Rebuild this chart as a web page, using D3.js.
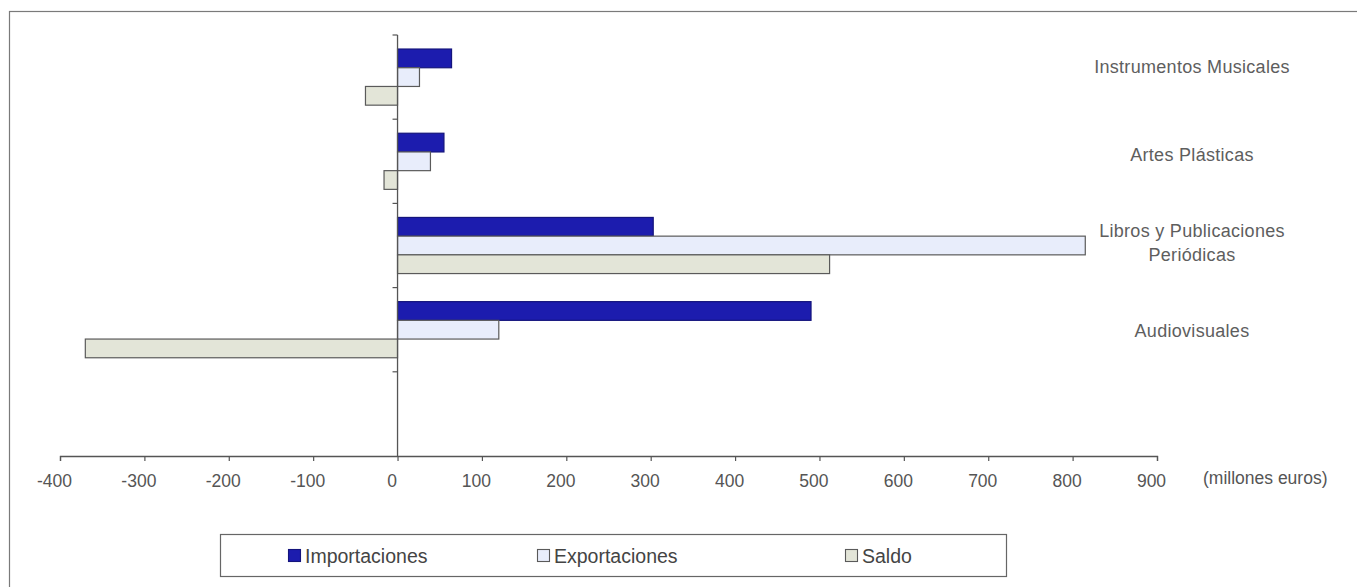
<!DOCTYPE html>
<html>
<head>
<meta charset="utf-8">
<script src="https://cdn.jsdelivr.net/npm/d3@7"></script>
<style>
  html, body { margin: 0; padding: 0; background: #fff; }
  svg { display: block; font-family: "Liberation Sans", Arial, Helvetica, sans-serif; }
</style>
</head>
<body>
<svg id="chart" width="1357" height="587"></svg>
<script>
// ---- data ----
const categories = ["Instrumentos Musicales", "Artes Plásticas", "Libros y Publicaciones\nPeriódicas", "Audiovisuales"];
const series = ["Importaciones", "Exportaciones", "Saldo"];
const importaciones = [64, 55, 303, 490];
const exportaciones = [26, 39, 815, 120];
const saldo = [-38, -16, 512, -370];
const xTicks = [-400, -300, -200, -100, 0, 100, 200, 300, 400, 500, 600, 700, 800, 900];
const unitLabel = "(millones euros)";

// ---- styles ----
const fills = { "Importaciones": "#1c1cae", "Exportaciones": "#e8edfb", "Saldo": "#e3e5d8" };
const strokes = { "Importaciones": "#14147c", "Exportaciones": "#5a5a5a", "Saldo": "#5a5a5a" };

const svg = d3.select("#chart");

// outer frame
svg.append("rect")
  .attr("x", 9.5).attr("y", 11.5).attr("width", 1400).attr("height", 620)
  .attr("fill", "#fff").attr("stroke", "#7a7a7a").attr("stroke-width", 1.2);

const axisTop = 35, axisBottom = 456;
const step = (axisBottom - axisTop) / (categories.length + 1);

const x = d3.scaleLinear().domain([-400, 900]).range([60, 1157]);
const y = d3.scaleBand().domain(categories).range([axisTop, axisTop + step * categories.length]).padding(0);
const inner = d3.scaleBand().domain(series).range([0, y.bandwidth()]).paddingInner(0).paddingOuter(0.75);

const valuesBySeries = { "Importaciones": importaciones, "Exportaciones": exportaciones, "Saldo": saldo };
const rows = [];
categories.forEach((c, i) => series.forEach(s => rows.push({ cat: c, s, v: valuesBySeries[s][i] })));

// bars
svg.append("g").selectAll("rect").data(rows).join("rect")
  .attr("x", d => x(Math.min(0, d.v)))
  .attr("y", d => y(d.cat) + inner(d.s))
  .attr("width", d => Math.abs(x(d.v) - x(0)))
  .attr("height", inner.bandwidth())
  .attr("fill", d => fills[d.s])
  .attr("stroke", d => strokes[d.s])
  .attr("stroke-width", 1.2);

// x axis
const xAxis = svg.append("g")
  .attr("transform", `translate(0,${axisBottom})`)
  .call(d3.axisBottom(x).tickValues(xTicks).tickSize(5).tickSizeOuter(5).tickFormat(d => String(d)));
xAxis.select(".domain").attr("stroke", "#555").attr("stroke-width", 1.3);
xAxis.selectAll(".tick line").attr("stroke", "#555").attr("stroke-width", 1.2);
xAxis.selectAll(".tick text")
  .attr("y", 31).attr("dy", 0).attr("dx", -6)
  .attr("font-size", 17.5).attr("fill", "#555")
  .attr("font-family", "'Liberation Sans', Arial, sans-serif");

svg.append("text")
  .attr("x", 1203).attr("y", 484)
  .attr("font-size", 17.5).attr("fill", "#555")
  .text(unitLabel);

// y axis (category boundaries)
const yAxis = svg.append("g");
yAxis.append("line")
  .attr("x1", x(0)).attr("x2", x(0))
  .attr("y1", axisTop).attr("y2", axisBottom)
  .attr("stroke", "#555").attr("stroke-width", 1.3);
const boundaries = categories.map(c => y(c)).concat([y(categories[categories.length - 1]) + step]);
yAxis.selectAll("line.tk").data(boundaries).join("line")
  .attr("class", "tk")
  .attr("x1", x(0) - 5).attr("x2", x(0))
  .attr("y1", d => d).attr("y2", d => d)
  .attr("stroke", "#555").attr("stroke-width", 1.2);

// category labels (right side)
const labelY = d3.scalePoint().domain(categories).range([67, 331]);
const labelX = 1192;
const lab = svg.append("g").selectAll("text").data(categories).join("text")
  .attr("x", labelX)
  .attr("text-anchor", "middle")
  .attr("font-size", 18)
  .attr("letter-spacing", 0.3)
  .attr("fill", "#5e5e5e");
lab.each(function(c) {
  const lines = c.split("\n");
  const t = d3.select(this);
  const lh = 24;
  const y0 = labelY(c) - (lines.length - 1) * lh / 2 + 6;
  lines.forEach((ln, i) => {
    t.append("tspan").attr("x", labelX).attr("y", y0 + i * lh).text(ln);
  });
});

// legend
const legend = svg.append("g");
legend.append("rect")
  .attr("x", 220.5).attr("y", 534.5).attr("width", 786).attr("height", 42)
  .attr("fill", "#fff").attr("stroke", "#666").attr("stroke-width", 1.2);
const legendOffsets = [0, 249, 557];
const li = legend.selectAll("g.li").data(series).join("g")
  .attr("class", "li")
  .attr("transform", (d, i) => `translate(${288 + legendOffsets[i]},549)`);
li.append("rect")
  .attr("x", 0.5).attr("y", 0.5).attr("width", 12).attr("height", 12)
  .attr("fill", d => fills[d]).attr("stroke", d => strokes[d]).attr("stroke-width", 1.1);
li.append("text")
  .attr("x", 17).attr("y", 14)
  .attr("font-size", 19.5).attr("fill", "#444")
  .text(d => d);
</script>
</body>
</html>
